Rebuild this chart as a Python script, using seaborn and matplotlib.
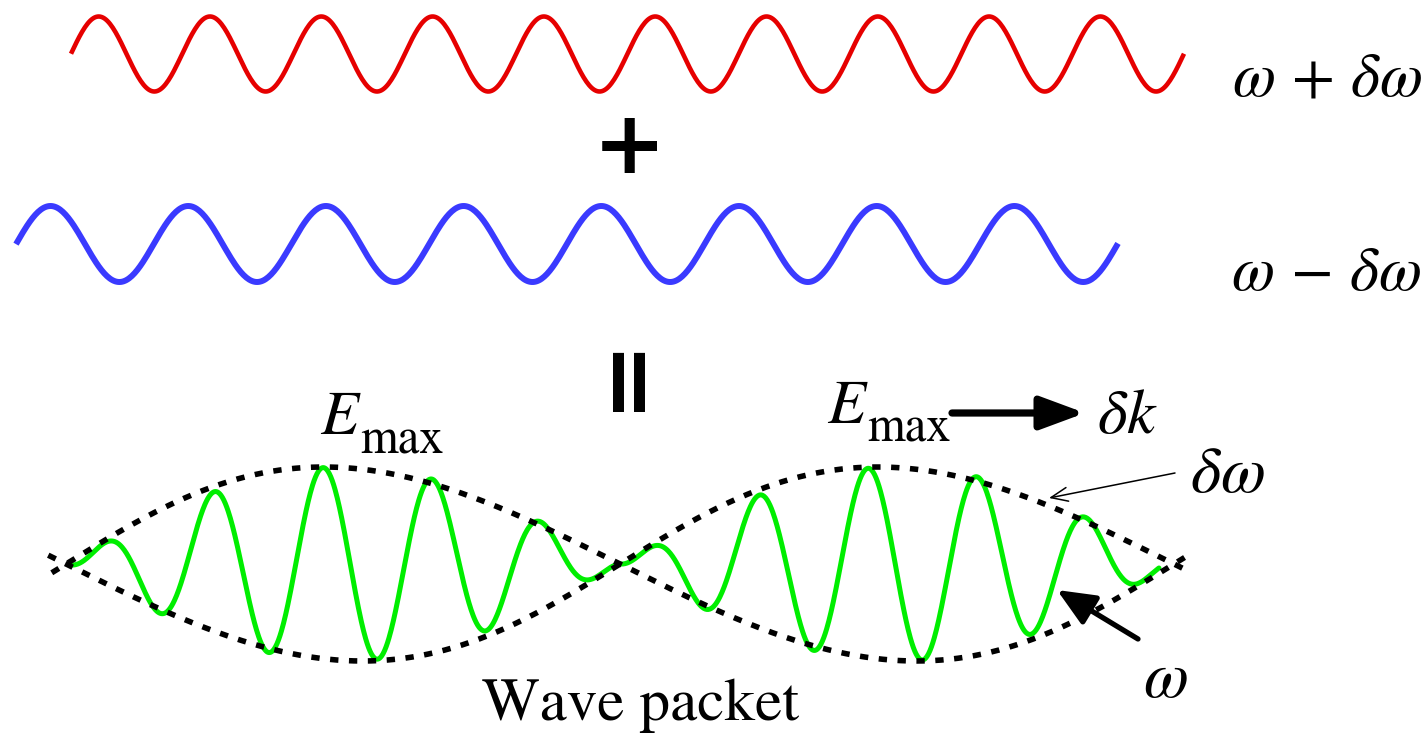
import numpy as np
import pandas as pd
import matplotlib
matplotlib.use("Agg")
import matplotlib.pyplot as plt
import seaborn as sns

# Values, in pixel units (y grows downwards)
wave_labels = [r"$\omega\,+\,\delta\omega$", r"$\omega\,-\,\delta\omega$"]
wave_x_start = [71, 16]
wave_x_end = [1184, 1118]
wave_center = [54, 244]
wave_amp = [37.5, 38]
wave_period = [111.3, 137.7]
wave_first_peak = [98.7, 50.5]
wave_colors = ["#e60000", "#3a3aff"]
wave_widths = [3.3, 4.3]
label_pos = [(1422, 95), (1421, 290)]

# wave packet (green) and its dotted envelope
packet_x = [69, 1159]
packet_center = 564
packet_amp = 97
envelope_node = 66
envelope_half = 554
carrier_period = 109.0
carrier_first_peak = 105
envelope_x = [50, 1190]
envelope_skew = 0.2

sns.set_theme(style="white")
plt.rcParams["mathtext.fontset"] = "stix"
plt.rcParams["font.family"] = ["STIXGeneral", "DejaVu Serif"]
plt.rcParams["text.color"] = "black"

fig = plt.figure(figsize=(14.28, 7.40), dpi=100)
ax = fig.add_axes([0, 0, 1, 1])
ax.set_xlim(0, 1428)
ax.set_ylim(740, 0)
ax.axis("off")

# the two input waves
for i in range(2):
    x = np.linspace(wave_x_start[i], wave_x_end[i], 800)
    y = wave_center[i] - wave_amp[i] * np.cos(2 * np.pi * (x - wave_first_peak[i]) / wave_period[i])
    df = pd.DataFrame({"x": x, "y": y})
    sns.lineplot(data=df, x="x", y="y", ax=ax, color=wave_colors[i], lw=wave_widths[i],
                 sort=False, estimator=None, solid_capstyle="butt")
    ax.text(label_pos[i][0], label_pos[i][1], wave_labels[i], fontsize=45,
            ha="right", va="baseline", color="black")


def envelope(x):
    return packet_amp * np.sin(np.pi * (x - envelope_node) / envelope_half)


# green carrier inside the envelope
xg = np.linspace(packet_x[0], packet_x[1], 1500)
yg = packet_center - np.abs(envelope(xg)) * np.cos(2 * np.pi * (xg - carrier_first_peak) / carrier_period)
sns.lineplot(x=xg, y=yg, ax=ax, color="#00ee00", lw=3.6, sort=False, estimator=None)

# dotted envelope, drawn slightly sheared like the original sketch
xe = np.linspace(envelope_x[0], envelope_x[1], 1500)
for sign in (-1, 1):
    ye = packet_center + sign * envelope(xe)
    xs = xe + envelope_skew * (ye - packet_center)
    sns.lineplot(x=xs, y=ye, ax=ax, color="black", lw=4.0, sort=False, estimator=None,
                 linestyle=(0, (1.5, 1.9)), dash_capstyle="butt")

# "+" and "=" between the rows
ax.text(629, 149, "+", fontsize=63, fontweight="bold", family="DejaVu Sans",
        ha="center", va="center", color="black")
ax.text(624, 371, "=", fontsize=68, fontweight="bold", family="DejaVu Sans",
        ha="center", va="center", rotation=90, color="black")

# E_max labels
for ex, ey in [(320, 434), (827, 423)]:
    ax.text(ex, ey, r"$E$", fontsize=45, ha="left", va="baseline", color="black")
    ax.text(ex + 40, ey + 19, "max", fontsize=35, ha="left", va="baseline", color="black")

# group velocity arrow and delta k
ax.annotate("", xy=(1085, 413), xytext=(952, 413),
            arrowprops=dict(arrowstyle="-|>,head_length=2.7,head_width=1.0",
                            mutation_scale=10, lw=5.2, color="black",
                            shrinkA=0, shrinkB=0))
ax.text(1097, 433, r"$\delta k$", fontsize=46, ha="left", va="baseline", color="black")

# delta omega pointing to envelope
ax.annotate("", xy=(1049, 498), xytext=(1175, 473),
            arrowprops=dict(arrowstyle="->,head_length=1.2,head_width=0.5",
                            mutation_scale=10, lw=1.1, color="black",
                            shrinkA=0, shrinkB=0))
ax.text(1190, 492, r"$\delta\omega$", fontsize=47, ha="left", va="baseline", color="black")

# omega pointing to carrier
ax.annotate("", xy=(1057, 590), xytext=(1138, 639),
            arrowprops=dict(arrowstyle="-|>,head_length=2.3,head_width=1.0",
                            mutation_scale=10, lw=3.8, color="black",
                            shrinkA=0, shrinkB=0))
ax.text(1143, 697, r"$\omega$", fontsize=47, ha="left", va="baseline", color="black")

ax.text(482, 720, "Wave packet", fontsize=44, ha="left", va="baseline", color="black")

fig.savefig("out.png", dpi=100)
